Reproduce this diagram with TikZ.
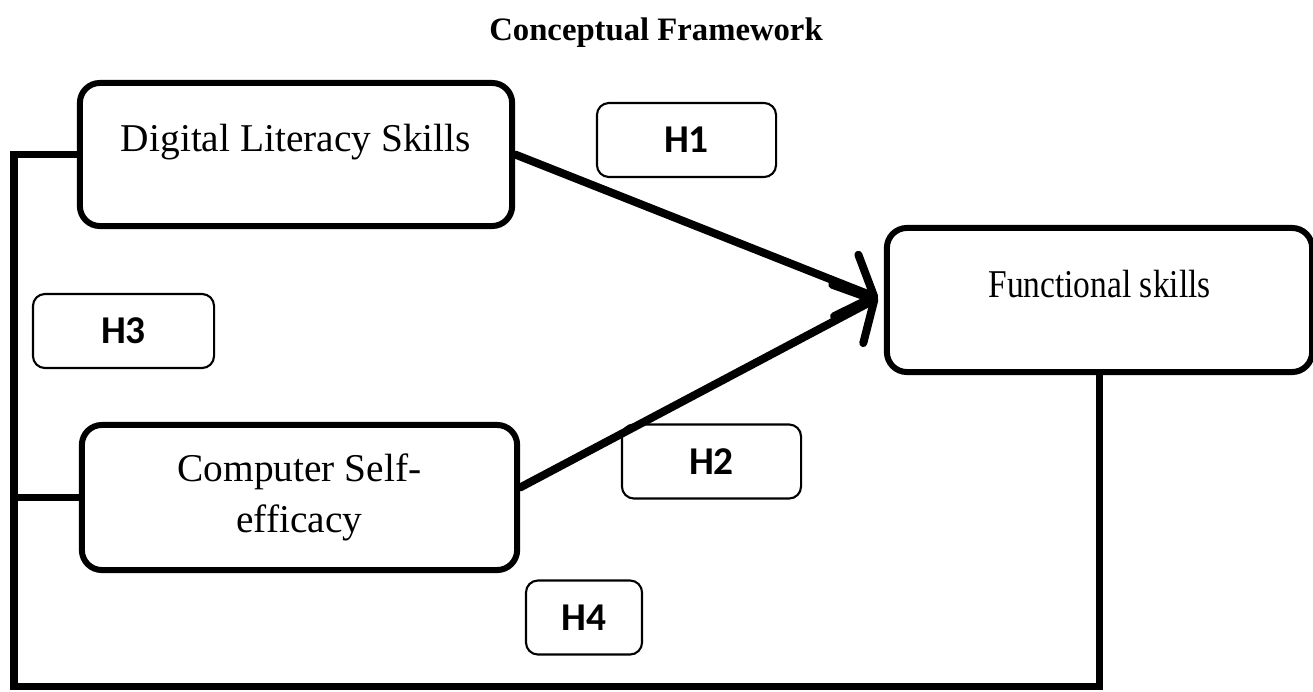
\documentclass[tikz,border=0pt]{standalone}
\usepackage{fontspec}
\setmainfont{Liberation Serif}
\newfontfamily\hypfont{Carlito}
\usetikzlibrary{arrows.meta}
\begin{document}
\begin{tikzpicture}[x=0.01cm, y=-0.01cm, every node/.style = {shape=rectangle, align=center, inner sep=0pt}]
			\tikzset{ varbox/.style = {draw, line width=0.06cm, rounded corners=0.2cm, font=\fontsize{11.2}{14.5}\selectfont},
				topline/.style = {text height=0.27cm, text depth=0.32cm},
				hypbox/.style = {draw, line width=0.6pt, rounded corners=0.12cm, minimum height=0.74cm, font=\hypfont\bfseries\fontsize{11.2}{13}\selectfont},
				link/.style = {line width=0.07cm},
				path/.style = {line width=0.08cm, line cap=round, -{Straight Barb[length=0.3cm, width=0.66cm, line width=0.08cm, round]}} }
			\useasboundingbox (0,0) rectangle (1313,691);
			\node (title) at (656,33) {\fontsize{9.3}{11}\selectfont\bfseries Conceptual Framework};
			\node [varbox, topline, minimum width=4.32cm, minimum height=1.43cm] (dls) at (296,154.5) {Digital Literacy Skills};
			\node [varbox, minimum width=4.35cm, minimum height=1.45cm] (cse) at (299.5,497.5) {Computer Self-\\efficacy};
			\node [varbox, topline, minimum width=4.25cm, minimum height=1.44cm] (fs) at (1099.5,300) {\scalebox{0.85}[1]{Functional skills}};
			\node [hypbox, minimum width=1.79cm] (h1) at (686.5,140) {H1};
			\node [hypbox, minimum width=1.79cm] (h2) at (711.5,461.5) {H2};
			\node [hypbox, minimum width=1.81cm] (h3) at (123.5,331) {H3};
			\node [hypbox, minimum width=1.16cm] (h4) at (584,617.5) {H4};
			\coordinate (tip) at ([xshift=-0.06cm, yshift=0.02cm]fs.west);
			\coordinate (corner) at (14,686);
			\draw [path] (dls.east) -- (tip);
			\draw [path] ([yshift=0.1cm]cse.east) -- (tip);
			\draw [link] (dls.west) -- (dls.west -| corner) -- (corner) -| (fs.south);
			\draw [link] (cse.west) -- (cse.west -| corner);
		\end{tikzpicture}
\end{document}
